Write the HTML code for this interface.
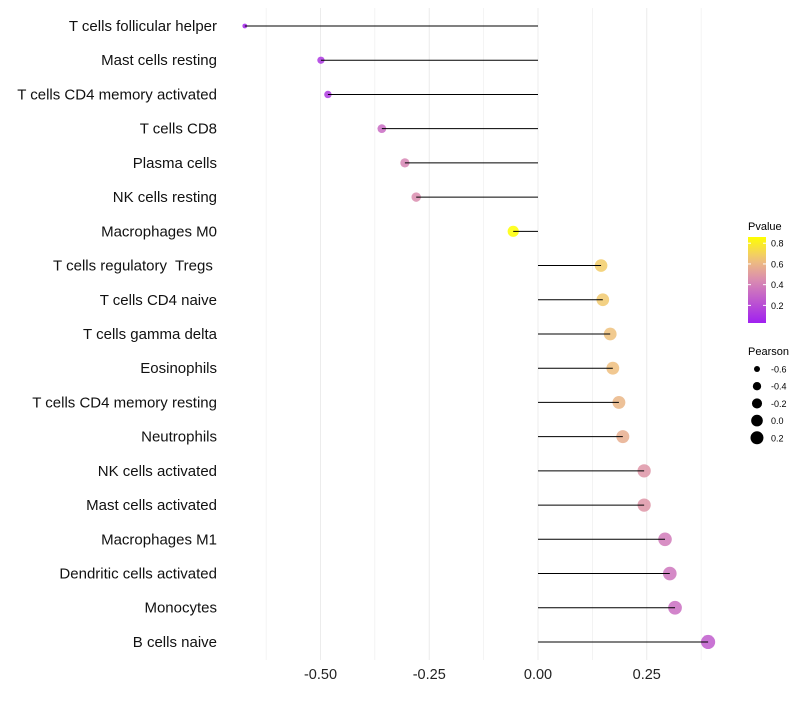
<!DOCTYPE html>
<html><head><meta charset="utf-8"><style>
body{margin:0;background:#fff;font-family:"Liberation Sans",sans-serif}
text{white-space:pre}
</style></head><body>
<svg id="chart" width="800" height="700" xmlns="http://www.w3.org/2000/svg" font-family="Liberation Sans, sans-serif"></svg>
<script>
const categories=["T cells follicular helper","Mast cells resting","T cells CD4 memory activated","T cells CD8","Plasma cells","NK cells resting","Macrophages M0","T cells regulatory  Tregs ","T cells CD4 naive","T cells gamma delta","Eosinophils","T cells CD4 memory resting","Neutrophils","NK cells activated","Mast cells activated","Macrophages M1","Dendritic cells activated","Monocytes","B cells naive"];
const pearson=[-0.674,-0.499,-0.483,-0.359,-0.306,-0.280,-0.057,0.145,0.149,0.166,0.172,0.186,0.195,0.244,0.244,0.292,0.303,0.315,0.391];
const pvalues=[0.05,0.12,0.13,0.32,0.42,0.45,0.86,0.68,0.67,0.64,0.63,0.6,0.57,0.48,0.48,0.38,0.36,0.33,0.26];
const xTicks=[-0.5,-0.25,0,0.25];
const xTickLabels=["-0.50","-0.25","0.00","0.25"];
const pTicks=[0.2,0.4,0.6,0.8];
const sizeTicks=[-0.6,-0.4,-0.2,0.0,0.2];

const svg=document.getElementById('chart');
const NS="http://www.w3.org/2000/svg";
function mk(t,a,p){const e=document.createElementNS(NS,t);for(const k in a)e.setAttribute(k,a[k]);(p||svg).appendChild(e);return e;}
const x=v=>538+v*435;
const y=i=>26+i*34.22;
const r=v=>Math.sqrt(Math.max(2.5,33.9+41.6*v));
const pMin=0.03,pMax=0.86;
function col(p){
  let t=Math.min(1,Math.max(0,(p-pMin)/(pMax-pMin)));
  const stops=[[0,[160,32,240]],[0.5,[218,140,176]],[0.75,[240,196,120]],[1,[255,255,0]]];
  for(let i=0;i<stops.length-1;i++){const[a,ca]=stops[i],[b,cb]=stops[i+1];
    if(t<=b){const f=(t-a)/(b-a);return `rgb(${ca.map((c,j)=>Math.round(c+(cb[j]-c)*f)).join(',')})`;}}
  return 'rgb(255,255,0)';
}
for(let v=-0.625;v<=0.4;v+=0.125){
  const g=mk('line',{x1:x(v),x2:x(v),y1:8,y2:660,stroke:'#ececec','stroke-width':Math.abs((v*8)%2)<0.01?1:0.6});
  
}
categories.forEach((c,i)=>{
  const t=mk('text',{x:217,y:y(i)+5,'text-anchor':'end','font-size':15,fill:'#111'});t.textContent=c;
  
  const d=mk('circle',{cx:x(pearson[i]),cy:y(i),r:r(pearson[i]),fill:col(pvalues[i]),'fill-opacity':0.85});
  
  const l=mk('line',{x1:x(0),x2:x(pearson[i]),y1:y(i),y2:y(i),stroke:'#000','stroke-width':1});
  
});
xTicks.forEach((v,i)=>{const t=mk('text',{x:x(v),y:679,'text-anchor':'middle','font-size':14.5,fill:'#222'});t.textContent=xTickLabels[i];
  });
const lt=mk('text',{x:748,y:230,'font-size':11});lt.textContent='Pvalue';

const defs=mk('defs',{});const gr=mk('linearGradient',{id:'pg',x1:0,y1:1,x2:0,y2:0},defs);
for(let k=0;k<=10;k++)mk('stop',{offset:k/10,'stop-color':col(pMin+(pMax-pMin)*k/10)},gr);
const bar=mk('rect',{x:748,y:237,width:18,height:86,fill:'url(#pg)'});

const py=p=>323-(p-pMin)/(pMax-pMin)*86;
pTicks.forEach(p=>{mk('line',{x1:748,x2:751,y1:py(p),y2:py(p),stroke:'#fff'});mk('line',{x1:763,x2:766,y1:py(p),y2:py(p),stroke:'#fff'});
  const t=mk('text',{x:771,y:py(p)+3.5,'font-size':9});t.textContent=p.toFixed(1);
  });
const st=mk('text',{x:748,y:355,'font-size':11});st.textContent='Pearson';

sizeTicks.forEach((v,i)=>{const cy=369+i*17.2;
  const c=mk('circle',{cx:757,cy:cy,r:r(v),fill:'#000'});
  
  const t=mk('text',{x:771,y:cy+3.5,'font-size':9});t.textContent=v.toFixed(1);
  });
</script>
</body></html>
